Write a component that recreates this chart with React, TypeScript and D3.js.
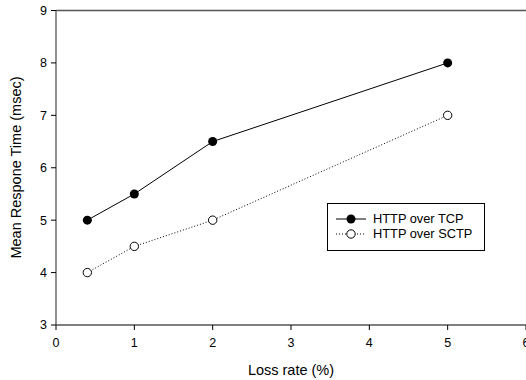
import React from "react";
import * as d3 from "d3";

const lossRates = [0.4, 1, 2, 5];
const tcpValues = [5, 5.5, 6.5, 8];
const sctpValues = [4, 4.5, 5, 7];
const xTicks = [0, 1, 2, 3, 4, 5, 6];
const yTicks = [3, 4, 5, 6, 7, 8, 9];
const seriesNames = ["HTTP over TCP", "HTTP over SCTP"];

export default function App() {
  const W = 526, H = 380;
  const left = 56, right = 526, top = 10.5, bottom = 325;
  const x = d3.scaleLinear().domain([0, 6]).range([left, right]);
  const y = d3.scaleLinear().domain([3, 9]).range([bottom, top]);
  const line = d3.line<[number, number]>().x(d => x(d[0])).y(d => y(d[1]));
  const tcp = lossRates.map((r, i) => [r, tcpValues[i]] as [number, number]);
  const sctp = lossRates.map((r, i) => [r, sctpValues[i]] as [number, number]);
  const font = "'Liberation Sans', Arial, sans-serif";
  const axisColor = "#555";
  return (
    <svg width={W} height={H} style={{ position: "absolute", left: 0, top: 0, background: "#fff" }} fontFamily={font}>
      <rect width={W} height={H} fill="#fff" />
      {/* axes */}
      <line x1={left} x2={right} y1={top} y2={top} stroke={axisColor} strokeWidth={1.3} />
      <line x1={left} x2={left} y1={top} y2={bottom} stroke={axisColor} strokeWidth={1.3} />
      <line x1={left} x2={right} y1={bottom} y2={bottom} stroke={axisColor} strokeWidth={1.3} />
      {yTicks.map(t => (
        <g key={"y" + t}>
          <line x1={left - 5} x2={left} y1={y(t)} y2={y(t)} stroke="#000" strokeWidth={1} />
          <text x={left - 9} y={y(t)} dy="0.35em" textAnchor="end" fontSize={12.5} fill="#000">{t}</text>
        </g>
      ))}
      {xTicks.map(t => (
        <g key={"x" + t}>
          <line x1={x(t)} x2={x(t)} y1={bottom} y2={bottom + 5} stroke="#000" strokeWidth={1} />
          <text x={x(t)} y={bottom + 22} textAnchor="middle" fontSize={12.5} fill="#000">{t}</text>
        </g>
      ))}
      <text x={291} y={375} textAnchor="middle" fontSize={14.5} fill="#000">Loss rate (%)</text>
      <text transform={`translate(21,167.5) rotate(-90)`} textAnchor="middle" fontSize={14.5} fill="#000">Mean Respone Time (msec)</text>
      {/* series */}
      <path d={line(tcp) || ""} fill="none" stroke="#000" strokeWidth={1} />
      <path d={line(sctp) || ""} fill="none" stroke="#000" strokeWidth={1} strokeDasharray="1,2" />
      {tcp.map((d, i) => (
        <circle key={"t" + i} cx={x(d[0])} cy={y(d[1])} r={4.5} fill="#000" />
      ))}
      {sctp.map((d, i) => (
        <circle key={"s" + i} cx={x(d[0])} cy={y(d[1])} r={4.2} fill="#fff" stroke="#000" strokeWidth={1} />
      ))}
      {/* legend */}
      <rect x={327.5} y={203.5} width={157} height={47} fill="#fff" stroke="#000" strokeWidth={1} />
      <line x1={336} x2={366} y1={219} y2={219} stroke="#000" strokeWidth={1} />
      <circle cx={351} cy={219} r={4.5} fill="#000" />
      <text x={373} y={219} dy="0.35em" fontSize={12.8} fill="#000">{seriesNames[0]}</text>
      <line x1={336} x2={366} y1={234} y2={234} stroke="#000" strokeWidth={1} strokeDasharray="1,2" />
      <circle cx={351} cy={234} r={4.2} fill="#fff" stroke="#000" strokeWidth={1} />
      <text x={373} y={234} dy="0.35em" fontSize={12.8} fill="#000">{seriesNames[1]}</text>
    </svg>
  );
}
